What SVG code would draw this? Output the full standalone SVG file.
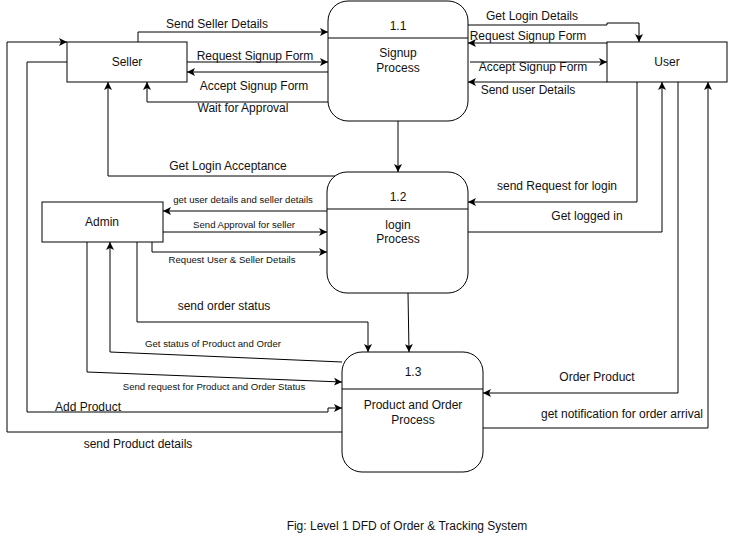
<svg xmlns="http://www.w3.org/2000/svg" width="729" height="543" viewBox="0 0 729 543">
<style>
text{font-family:"Liberation Sans",Arial,sans-serif;fill:#111;}
.n{font-size:12px;text-anchor:middle;}
.l{font-size:12px;text-anchor:middle;}
.s{font-size:9.6px;text-anchor:middle;}
.box{fill:#fff;stroke:#000;stroke-width:1;}
.c{fill:none;stroke:#000;stroke-width:1;marker-end:url(#a);}
.d{fill:none;stroke:#000;stroke-width:1;}
</style>
<defs>
<marker id="a" viewBox="0 0 10 10" refX="10" refY="5" markerWidth="8" markerHeight="8" markerUnits="userSpaceOnUse" orient="auto">
<path d="M0,0 L10,5 L0,10 L2.5,5 Z" fill="#000"/>
</marker>
</defs>
<rect width="729" height="543" fill="#fff"/>
<g id="connectors">
<path class="c" d="M138,42 V32 H328"/>
<path class="c" d="M187,62 H328"/>
<path class="c" d="M328,72 H187"/>
<path class="c" d="M328,102 H147 V82"/>
<path class="c" d="M468,25 H607 V23 H639 V42"/>
<path class="c" d="M607,43 H468"/>
<path class="c" d="M470,62 H607"/>
<path class="c" d="M607,82 H468"/>
<path class="c" d="M398,121 V172"/>
<path class="c" d="M341,176 H108 V82"/>
<path class="c" d="M327,211 H163"/>
<path class="c" d="M163,232 H327"/>
<path class="c" d="M152,242 V252 H327"/>
<path class="c" d="M637,82 V202 H468"/>
<path class="c" d="M468,232 H662 V82"/>
<path class="c" d="M678,82 V393 H483"/>
<path class="c" d="M483,428 H708 V82"/>
<path class="c" d="M408,293 L409,352"/>
<path class="c" d="M137,242 V322 H368 V352"/>
<path class="c" d="M342,362 L110,352 V242"/>
<path class="c" d="M87,242 V372 L342,382"/>
<path class="c" d="M67,62 H27 V412 H328 V408 H342"/>
<path class="c" d="M342,432 H7 V42 H67"/>
</g>
<g id="seller"><rect class="box" x="67" y="42" width="120" height="40"/><text class="n" x="127" y="66">Seller</text></g>
<g id="user"><rect class="box" x="607" y="42" width="120" height="40"/><text class="n" x="667" y="66">User</text></g>
<g id="admin"><rect class="box" x="42" y="202" width="121" height="40"/><text class="n" x="102" y="226">Admin</text></g>
<g id="p11"><rect class="box" x="328" y="1" width="140" height="120" rx="20"/><line class="d" x1="328" y1="38" x2="468" y2="38"/><text class="n" x="398" y="30">1.1</text><text class="n" x="398" y="57">Signup</text><text class="n" x="398" y="72">Process</text></g>
<g id="p12"><rect class="box" x="327" y="172" width="141" height="121" rx="20"/><line class="d" x1="327" y1="209" x2="468" y2="209"/><text class="n" x="398" y="201">1.2</text><text class="n" x="398" y="229">login</text><text class="n" x="398" y="243">Process</text></g>
<g id="p13"><rect class="box" x="342" y="352" width="141" height="120" rx="20"/><line class="d" x1="342" y1="389" x2="483" y2="389"/><text class="n" x="413" y="376">1.3</text><text class="n" x="413" y="409">Product and Order</text><text class="n" x="413" y="424">Process</text></g>
<g id="labels">
<text class="l" x="217" y="28">Send Seller Details</text>
<text class="l" x="255" y="60">Request Signup Form</text>
<text class="l" x="254" y="90">Accept Signup Form</text>
<text class="l" x="243" y="112">Wait for Approval</text>
<text class="l" x="532" y="20">Get Login Details</text>
<text class="l" x="528" y="40">Request Signup Form</text>
<text class="l" x="533" y="71">Accept Signup Form</text>
<text class="l" x="528" y="94">Send user Details</text>
<text class="l" x="228" y="170">Get Login Acceptance</text>
<text class="s" x="243" y="203">get user details and seller details</text>
<text class="s" x="244" y="228">Send Approval for seller</text>
<text class="s" x="232" y="263">Request User &amp; Seller Details</text>
<text class="l" x="557" y="190">send Request for login</text>
<text class="l" x="587" y="220">Get logged in</text>
<text class="l" x="224" y="310">send order status</text>
<text class="s" x="213" y="347">Get status of Product and Order</text>
<text class="s" x="214" y="390">Send request for Product and Order Status</text>
<text class="l" x="88" y="411">Add Product</text>
<text class="l" x="138" y="448">send Product details</text>
<text class="l" x="597" y="381">Order Product</text>
<text class="l" x="622" y="418">get notification for order arrival</text>
<text x="407" y="530" style="font-size:12px;text-anchor:middle">Fig: Level 1 DFD of Order &amp; Tracking System</text>
</g>
</svg>
